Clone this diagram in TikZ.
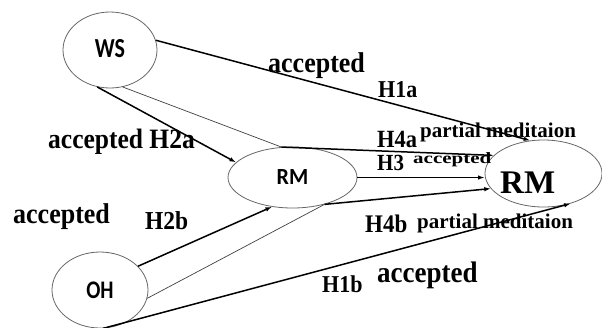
\documentclass[tikz,border=0pt]{standalone}
\usepackage{fontspec}
\setmainfont{Liberation Serif}
\newfontfamily\ellfont{Carlito}
\usetikzlibrary{shapes.geometric,arrows.meta}
\newcommand{\tallt}[1]{\scalebox{1}[1.1]{#1}}
\begin{document}
\begin{tikzpicture}[x=1pt,y=-1pt,
  ell/.style={draw=black!60, line width=0.8pt, ellipse, inner sep=0pt, font=\ellfont\bfseries\fontsize{22}{22}\selectfont},
  thk/.style={line width=1.5pt, -{Latex[length=6.5pt,width=4.5pt]}},
  thn/.style={line width=0.7pt, draw=black!75},
  lbl/.style={anchor=base west, inner sep=0pt, font=\bfseries\fontsize{#1}{#1}\selectfont},
]
\useasboundingbox (0,0) rectangle (602,327);
% ellipses
\node[ell, minimum width=94pt, minimum height=76pt] (ws) at (110,50) {\raisebox{4pt}{\scalebox{1}[1.25]{WS}}};
\node[ell, minimum width=129pt, minimum height=61pt] (rm1) at (292.5,177.5) {\scalebox{1}[1.05]{RM}};
\node[ell, minimum width=117pt, minimum height=67pt] (rm2) at (543.5,173.5) {};
\node[ell, minimum width=96pt, minimum height=76pt] (oh) at (100,290) {\raisebox{-1pt}{\scalebox{0.95}[1.15]{OH}}};
% labels
\node[lbl=26] (a1) at (268,72) {\tallt{accepted}};
\node[lbl=22] (h1a) at (378,97) {\tallt{H1a}};
\node[lbl=25.5] (a2) at (48,148) {\tallt{accepted H2a}};
\node[lbl=26] (a3) at (13,223) {\tallt{accepted}};
\node[lbl=23.5] (h2b) at (145,229) {\tallt{H2b}};
\node[lbl=22.5] (h4a) at (377,147) {\tallt{H4a}};
\node[lbl=21] (pm1) at (420,137) {partial meditaion};
\node[lbl=21] (h3) at (377,170) {\tallt{H3}};
\node[lbl=21] (a4) at (413,163) {\scalebox{1}[0.75]{accepted}};
\node[lbl=33] (rmb) at (500,193) {RM};
\node[lbl=23] (h4b) at (365,232) {\tallt{H4b}};
\node[lbl=21] (pm2) at (417,228) {partial meditaion};
\node[lbl=22] (h1b) at (322,292) {\tallt{H1b}};
\node[lbl=27] (a5) at (377,282) {\tallt{accepted}};
% connectors
\draw[thk] (ws.12) -- (rm2.112);
\draw[thk] (ws.-109) -- (rm1.165);
\draw[thn] (ws.-71) -- (rm1.110);
\draw[thk] (rm1.110) -- (rm2.160);
\draw[thk] (rm1.east) -- (rm1.east -| rm2.west);
\draw[thn] (oh.-10) -- (rm1.-40);
\draw[thk] (rm1.-40) -- (rm2.196);
\draw[thk] (oh.32) -- (rm1.-125);
\draw[thk] (oh.-85) -- (rm2.-48);
\end{tikzpicture}
\end{document}
